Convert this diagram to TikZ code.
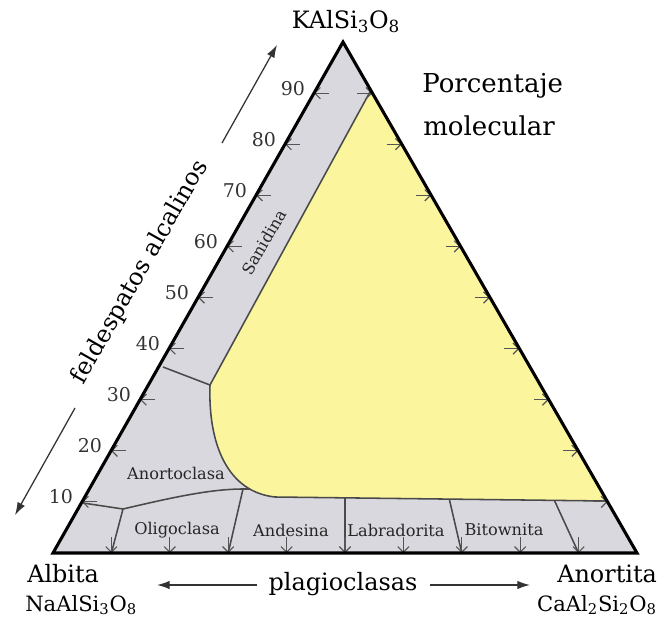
\documentclass[tikz,border=0pt]{standalone}
\usepackage{fontspec}
\setmainfont{DejaVu Serif}
\usetikzlibrary{arrows.meta}
\definecolor{bandgray}{HTML}{D8D8DE}
\definecolor{fieldyellow}{HTML}{FBF59E}
\definecolor{linegray}{HTML}{4A4A4A}
\definecolor{tickgray}{HTML}{555555}
\begin{document}
\begin{tikzpicture}[x={(0.025cm,0)},y={(0,-0.025cm)},
  tk/.style={draw=tickgray, line width=0.8pt, -{Straight Barb[length=4pt,width=8pt]}},
  bnd/.style={draw=linegray, line width=1.1pt, line join=round},
  triborder/.style={draw=black, line width=2.2pt, line join=miter},
  mineral/.style={font=\fontsize{11.5}{13}\selectfont, text=black!85, inner sep=0pt},
  bigtxt/.style={font=\fontsize{17}{20}\selectfont, inner sep=0pt},
  formula/.style={font=\fontsize{15}{18}\selectfont, inner sep=0pt},
  num/.style={font=\fontsize{13.5}{15}\selectfont, text=black!80, inner sep=0pt},
  arr/.style={-{Latex[length=9pt,width=6pt]}, line width=0.9pt, draw=black!80}]
\useasboundingbox (0,0) rectangle (660,618);
% corners
\coordinate (Ab) at (53,553);
\coordinate (An) at (637,553);
\coordinate (Or) at (343,42);
% background of triangle
\fill[bandgray] (Ab) -- (An) -- (Or) -- cycle;
% yellow field
\coordinate (Y1) at (371,90);
\coordinate (Y2) at (210,385);
\coordinate (Y3) at (275,497);
\coordinate (Y4) at (606,501);
\fill[fieldyellow] (Y1) -- (Y2) .. controls (208,445) and (228,492) .. (Y3) -- (Y4) -- cycle;
\draw[bnd] (Y1) -- (Y2) .. controls (208,445) and (228,492) .. (Y3) -- (Y4);
% sanidina / anortoclasa boundary
\coordinate (S1) at (163,367);
\draw[bnd] (S1) -- (Y2);
% anortoclasa / plagioclase boundary
\coordinate (P0) at (83,503);
\coordinate (P1) at (123,509);
\coordinate (P2) at (243,489);
\coordinate (P3) at (250,489);
\draw[bnd] (P0) -- (P1) .. controls (170,498) and (210,489) .. (P2) -- (P3);
% plagioclase dividers
\coordinate (D1b) at (111.4,553); \draw[bnd] (P1) -- (D1b);
\coordinate (D3b) at (228.2,553); \draw[bnd] (P2) -- (D3b);
\coordinate (D5t) at (345,497.8); \coordinate (D5b) at (345,553); \draw[bnd] (D5t) -- (D5b);
\coordinate (D7t) at (449.3,499.1); \coordinate (D7b) at (461.8,553); \draw[bnd] (D7t) -- (D7b);
\coordinate (D9t) at (554.4,500.4); \coordinate (D9b) at (578.6,553); \draw[bnd] (D9t) -- (D9b);
% ticks
\foreach \k in {1,...,9} {
  \draw[tk] ({53+29*\k+15},{553-51.1*\k}) -- ({53+29*\k},{553-51.1*\k});
  \draw[tk] ({637-29.4*\k-15},{553-51.1*\k}) -- ({637-29.4*\k},{553-51.1*\k});
  \draw[tk] ({53+58.4*\k},537) -- ({53+58.4*\k},553);
  \node[num] (n\k) at ({53+29*\k-21},{553-51.1*\k-5}) {\k0};
}
% triangle border
\draw[triborder] (Ab) -- (An) -- (Or) -- cycle;
% mineral labels
\node[mineral] (anort) at (176,473) {Anortoclasa};
\node[mineral] (olig) at (177,530) {Oligoclasa};
\node[mineral] (andes) at (291,530) {Andesina};
\node[mineral] (labr) at (396,530) {Labradorita};
\node[mineral] (bitow) at (504,530) {Bitownita};
\node[mineral, rotate=60] (sanid) at (264,242) {Sanidina};
% titles
\node[bigtxt, anchor=base] (kf) at (346,28) {KAlSi\textsubscript{3}O\textsubscript{8}};
\node[font=\fontsize{18.5}{22}\selectfont, anchor=base west, inner sep=0pt] (porc) at (422,93) {Porcentaje};
\node[font=\fontsize{18.5}{22}\selectfont, anchor=base west, inner sep=0pt] (molec) at (423,135) {molecular};
\node[bigtxt, rotate=60.4] (feld) at (140,272) {feldespatos alcalinos};
\node[bigtxt, anchor=base west] (albita) at (27,582) {Albita};
\node[formula, anchor=base west] (naform) at (25,611) {NaAlSi\textsubscript{3}O\textsubscript{8}};
\node[bigtxt, anchor=base] (plag) at (343,590) {plagioclasas};
\node[bigtxt, anchor=base west] (anortita) at (557,582) {Anortita};
\node[formula, anchor=base east] (caform) at (657,611) {CaAl\textsubscript{2}Si\textsubscript{2}O\textsubscript{8}};
% arrows
\coordinate (LA1) at (222,143); \coordinate (LA2) at (277,45);
\draw[arr] (LA1) -- (LA2);
\coordinate (LB1) at (75,408); \coordinate (LB2) at (15,515);
\draw[arr] (LB1) -- (LB2);
\coordinate (BA1) at (257,585); \coordinate (BA2) at (157,585);
\draw[arr] (BA1) -- (BA2);
\coordinate (BB1) at (430,585); \coordinate (BB2) at (530,585);
\draw[arr] (BB1) -- (BB2);
\end{tikzpicture}
\end{document}
